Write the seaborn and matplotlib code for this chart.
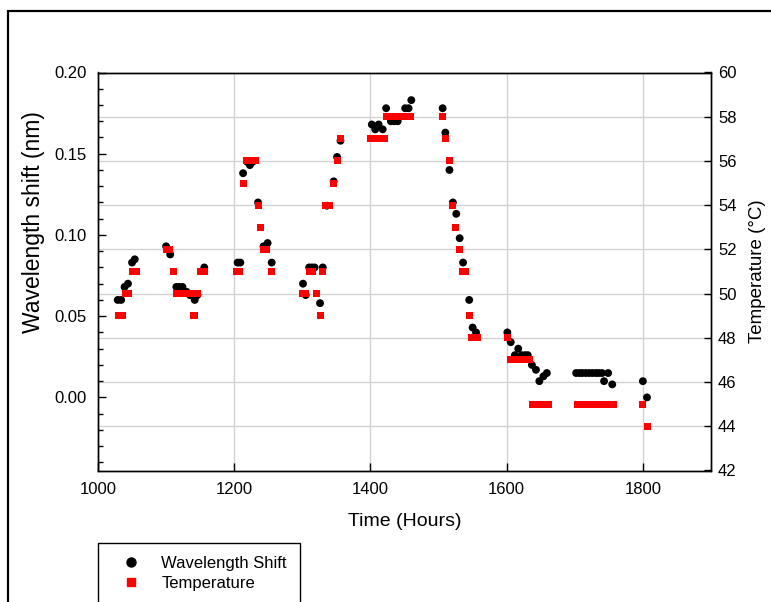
import matplotlib
matplotlib.use("Agg")
import matplotlib.pyplot as plt
import matplotlib.patches as mpatches
from matplotlib.lines import Line2D
from matplotlib.ticker import MultipleLocator, FormatStrFormatter
import pandas as pd
import seaborn as sns

# ---- data ----
shift_time = [1029, 1034, 1039, 1044, 1050, 1054,
              1100, 1106, 1115, 1119, 1124, 1130, 1135, 1142, 1146, 1156,
              1205, 1209, 1213, 1219, 1223, 1227, 1235, 1243, 1249, 1255,
              1301, 1305, 1310, 1314, 1318, 1326, 1330, 1336, 1346, 1351, 1356,
              1402, 1407, 1412, 1418, 1423, 1430, 1435, 1440, 1451, 1456, 1460,
              1506, 1510, 1516, 1521, 1526, 1531, 1536, 1545, 1550, 1555,
              1601, 1606, 1612, 1617, 1622, 1627, 1631, 1637, 1643, 1648, 1654, 1659,
              1702, 1707, 1711, 1716, 1721, 1726, 1731, 1735, 1740, 1743, 1749, 1755,
              1800, 1806]
shift_nm = [0.060, 0.060, 0.068, 0.070, 0.083, 0.085,
            0.093, 0.088, 0.068, 0.068, 0.068, 0.065, 0.063, 0.060, 0.063, 0.080,
            0.083, 0.083, 0.138, 0.145, 0.143, 0.145, 0.120, 0.093, 0.095, 0.083,
            0.070, 0.063, 0.080, 0.080, 0.080, 0.058, 0.080, 0.118, 0.133, 0.148, 0.158,
            0.168, 0.165, 0.168, 0.165, 0.178, 0.170, 0.170, 0.170, 0.178, 0.178, 0.183,
            0.178, 0.163, 0.140, 0.120, 0.113, 0.098, 0.083, 0.060, 0.043, 0.040,
            0.040, 0.034, 0.026, 0.030, 0.026, 0.026, 0.026, 0.020, 0.017, 0.010, 0.013, 0.015,
            0.015, 0.015, 0.015, 0.015, 0.015, 0.015, 0.015, 0.015, 0.015, 0.010, 0.015, 0.008,
            0.010, 0.000]

temp_time = [1030, 1036, 1040, 1045, 1050, 1056,
             1100, 1105, 1111, 1116, 1121, 1126, 1131, 1136, 1141, 1146, 1151, 1157,
             1203, 1208, 1213, 1218, 1222, 1226, 1231, 1235, 1239, 1243, 1248, 1255,
             1300, 1305, 1310, 1315, 1321, 1326, 1330, 1334, 1340, 1346, 1351, 1356,
             1400, 1405, 1410, 1415, 1420, 1423, 1428, 1433, 1438, 1443, 1448, 1453, 1459,
             1506, 1510, 1516, 1521, 1525, 1531, 1535, 1540, 1545, 1549, 1553, 1557,
             1601, 1605, 1610, 1615, 1620, 1625, 1630, 1634,
             1638, 1642, 1646, 1650, 1654, 1658, 1661,
             1704, 1709, 1714, 1719, 1724, 1729, 1734, 1739, 1744, 1749, 1754, 1757,
             1800, 1807]
temp_c = [49, 49, 50, 50, 51, 51,
          52, 52, 51, 50, 50, 50, 50, 50, 49, 50, 51, 51,
          51, 51, 55, 56, 56, 56, 56, 54, 53, 52, 52, 51,
          50, 50, 51, 51, 50, 49, 51, 54, 54, 55, 56, 57,
          57, 57, 57, 57, 57, 58, 58, 58, 58, 58, 58, 58, 58,
          58, 57, 56, 54, 53, 52, 51, 51, 49, 48, 48, 48,
          48, 47, 47, 47, 47, 47, 47, 47,
          45, 45, 45, 45, 45, 45, 45,
          45, 45, 45, 45, 45, 45, 45, 45, 45, 45, 45, 45,
          45, 44]

x_ticks = [1000, 1200, 1400, 1600, 1800]
left_ticks = [0.00, 0.05, 0.10, 0.15, 0.20]
right_ticks = [42, 44, 46, 48, 50, 52, 54, 56, 58, 60]
legend_labels = ["Wavelength Shift", "Temperature"]

x_lim = (1000, 1900)
left_lim = (-0.045, 0.20)
right_lim = (42, 60)

# ---- style ----
sns.set_theme(style="white")
plt.rcParams['font.family'] = ['Liberation Sans', 'DejaVu Sans']
plt.rcParams['text.color'] = 'black'
plt.rcParams['axes.labelcolor'] = 'black'
plt.rcParams['xtick.color'] = 'black'
plt.rcParams['ytick.color'] = 'black'

W, H = 771, 602
fig = plt.figure(figsize=(W / 100, H / 100), dpi=100)
ax = fig.add_axes([98 / W, (H - 470.5) / H, 613 / W, 398 / H])
ax2 = ax.twinx()

df_s = pd.DataFrame({"time": shift_time, "shift": shift_nm})
df_t = pd.DataFrame({"time": temp_time, "temp": temp_c})

sns.scatterplot(data=df_s, x="time", y="shift", ax=ax, color="black",
                marker="o", s=32, edgecolor="none", linewidth=0,
                legend=False, zorder=3)
sns.scatterplot(data=df_t, x="time", y="temp", ax=ax2, color="#ff0000",
                marker="s", s=26, edgecolor="none", linewidth=0,
                legend=False, zorder=3)

ax.set_xlim(*x_lim)
ax.set_ylim(*left_lim)
ax2.set_ylim(*right_lim)

ax.set_xticks(x_ticks)
ax.set_yticks(left_ticks)
ax.yaxis.set_minor_locator(MultipleLocator(0.01))
ax.yaxis.set_major_formatter(FormatStrFormatter('%.2f'))
ax2.set_yticks(right_ticks)

# grid: vertical at x ticks, horizontal at right-axis ticks
grid_kw = dict(color='#d2d2d2', lw=1.0, zorder=0)
for xt in x_ticks[1:]:
    ax.axvline(xt, **grid_kw)
for t in right_ticks[1:-1]:
    yv = left_lim[0] + (t - right_lim[0]) / (right_lim[1] - right_lim[0]) * (left_lim[1] - left_lim[0])
    ax.axhline(yv, **grid_kw)

for a in (ax, ax2):
    for sp in a.spines.values():
        sp.set_color('black')
        sp.set_linewidth(1.0)

ax.tick_params(axis='both', which='major', direction='in', length=6, width=1,
               labelsize=12, bottom=True, left=True, top=False, right=False)
ax.tick_params(axis='y', which='major', pad=8)
ax.tick_params(axis='x', which='major', pad=8)
ax.tick_params(axis='y', which='minor', direction='in', length=3.5, width=1, left=True)
ax2.tick_params(axis='y', which='major', direction='in', length=5, width=1,
                labelsize=12, right=True, pad=5)

ax.set_xlabel("Time (Hours)", fontsize=14)
ax.xaxis.set_label_coords(0.5, -0.107)
ax.set_ylabel("Wavelength shift (nm)", fontsize=16.5)
ax.yaxis.set_label_coords(-0.087, 0.625)
ax2.set_ylabel("Temperature (°C)", fontsize=13.5)
ax2.yaxis.set_label_coords(1.062, 0.5)

# legend below the axes
handles = [Line2D([], [], marker='o', color='black', ls='none', markersize=6.5),
           Line2D([], [], marker='s', color='#ff0000', ls='none', markersize=5.5)]
leg = fig.legend(handles, legend_labels, loc='upper left',
                 bbox_to_anchor=(98 / W, 1 - 542.7 / H), frameon=True,
                 fancybox=False, edgecolor='black', framealpha=1, fontsize=12,
                 borderpad=0.8, handlelength=2.4, handletextpad=0.6,
                 labelspacing=0.3, borderaxespad=0)
leg.get_frame().set_linewidth(1.0)

# outer frame of the original figure
fig.add_artist(mpatches.Rectangle((7.5 / W, -0.1), 1.2, 1 - 10.5 / H + 0.1,
                                  transform=fig.transFigure, fill=False,
                                  edgecolor='black', lw=1.6, clip_on=False))

fig.savefig("out.png", dpi=100, facecolor='white')
